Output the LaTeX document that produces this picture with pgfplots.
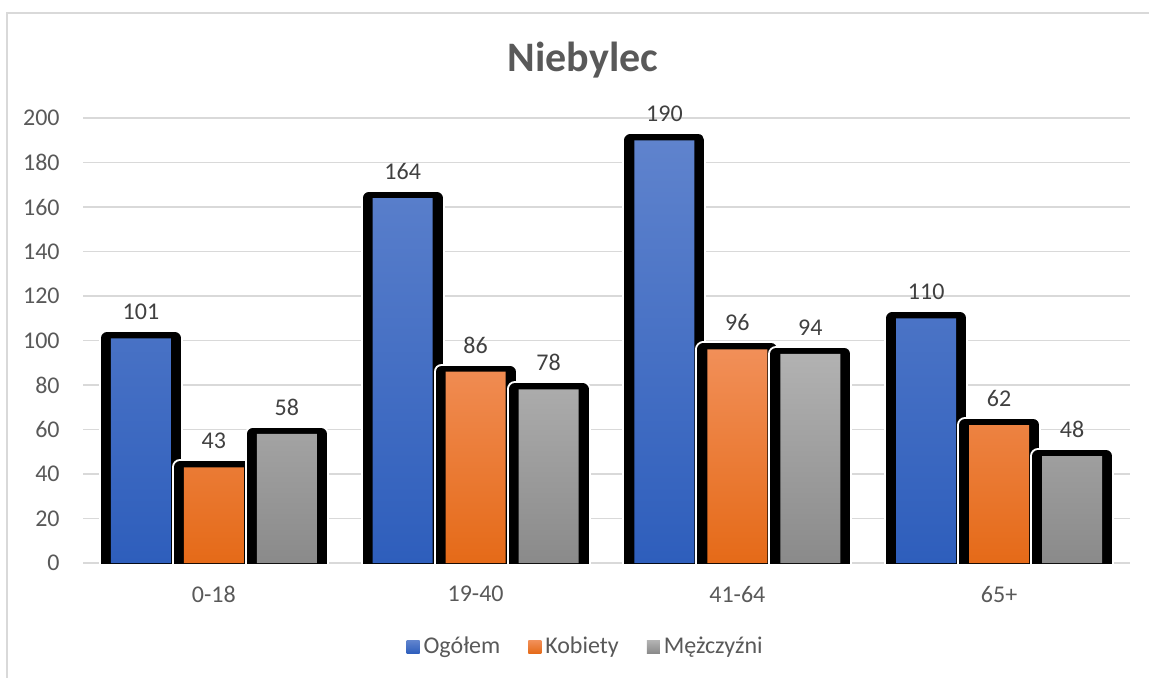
\documentclass[border=0pt]{standalone}
\usepackage{fontspec}
\setmainfont{Carlito}
\usepackage{pgfplots}
\usepackage{pgfplotstable}
\pgfplotsset{compat=1.18}

\definecolor{gridc}{HTML}{D9D9D9}
\definecolor{txt}{HTML}{595959}
\definecolor{lbl}{HTML}{404040}
\definecolor{blueT}{RGB}{95,131,205}
\definecolor{blueB}{RGB}{46,94,188}
\definecolor{oranT}{RGB}{241,143,88}
\definecolor{oranB}{RGB}{229,106,24}
\definecolor{grayT}{RGB}{178,178,178}
\definecolor{grayB}{RGB}{138,138,138}

% wiek / ogółem / kobiety / mężczyźni
\pgfplotstableread{
x ogolem kobiety mezczyzni
0 101 43 58
1 164 86 78
2 190 96 94
3 110 62 48
}\dane

\pgfplotsset{
    ramka/.style={forget plot, fill=black, draw=black, line width=6pt, line join=round,
        preaction={draw=white, line width=8pt}, bar width=0.2595},
}

\begin{document}
\begin{tikzpicture}
\useasboundingbox (0,0) rectangle (574.5pt,338.5pt);
\draw[gridc, line width=1pt] (3.5pt,-5pt) -- (3.5pt,332pt) -- (590pt,332pt);
\node[font=\fontsize{21}{25}\selectfont\bfseries, text=txt, anchor=base] at (291.5pt,303pt) {Niebylec};
\begin{axis}[
    at={(41.5pt,57pt)}, anchor=south west,
    width=523.5pt, height=222.5pt, scale only axis,
    ybar,
    xmin=-0.5, xmax=3.5, ymin=0, ymax=200,
    xtick={0,1,2,3},
    xticklabels={0-18,19-40,41-64,65+},
    ytick={0,20,...,200},
    ymajorgrids, grid style={gridc, line width=0.9pt},
    axis lines*=left,
    axis line style={draw=none},
    tick style={draw=none},
    major tick length=0pt,
    ticklabel style={font=\fontsize{12}{14}\selectfont, text=txt},
    yticklabel style={inner sep=0pt, xshift=-11.5pt},
    xticklabel style={inner sep=0pt, yshift=-11.5pt},
    /pgf/number format/assume math mode=true,
    every node near coord/.append style={font=\fontsize{12}{14}\selectfont, text=lbl, anchor=south, inner sep=0pt, yshift=9pt},
    legend style={at={(0.481,-0.1888)}, anchor=center, draw=none, fill=none,
        legend columns=-1, font=\fontsize{12}{14}\selectfont, text=txt,
        /tikz/every even column/.append style={column sep=12pt}},
    legend image code/.code={\fill[#1,draw=none] (0pt,-3.2pt) rectangle (6.5pt,3.2pt);},
]
% Ogółem
\addplot[ramka, bar shift=-0.2786] table[x=x,y=ogolem]{\dane};
\addplot[draw=none, top color=blueT, bottom color=blueB,
    bar width=0.229, bar shift=-0.2786, nodes near coords] table[x=x,y=ogolem]{\dane};
\addlegendentry{Ogółem}
% Kobiety
\addplot[ramka, bar shift=0] table[x=x,y=kobiety]{\dane};
\addplot[draw=none, top color=oranT, bottom color=oranB,
    bar width=0.229, bar shift=0, nodes near coords] table[x=x,y=kobiety]{\dane};
\addlegendentry{Kobiety}
% Mężczyźni
\addplot[ramka, bar shift=0.2786] table[x=x,y=mezczyzni]{\dane};
\addplot[draw=none, top color=grayT, bottom color=grayB,
    bar width=0.229, bar shift=0.2786, nodes near coords] table[x=x,y=mezczyzni]{\dane};
\addlegendentry{Mężczyźni}
\end{axis}
% black frame of bars must not run below the zero line
\fill[white] (41pt,50pt) rectangle (566pt,56.5pt);
\end{tikzpicture}
\end{document}
